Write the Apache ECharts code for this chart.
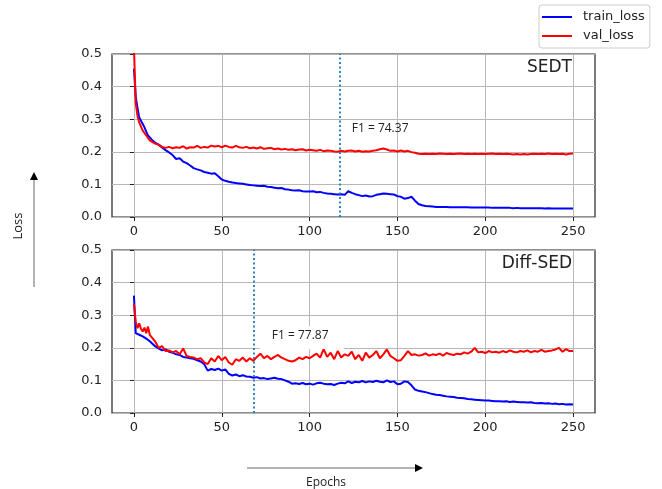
<!DOCTYPE html>
<html>
<head>
<meta charset="utf-8">
<script src="https://cdn.jsdelivr.net/npm/echarts@6/dist/echarts.min.js"></script>
<style>html,body{margin:0;padding:0;background:#fff}#c{width:662px;height:489px}</style>
</head>
<body>
<div id="c"></div>
<script>
const epochs = [0,1,2,3,4,5,6,7,8,9,10,12,14,16,18,20,22,24,26,28,30,32,34,36,38,40,42,44,46,48,50,52,54,56,58,60,62,64,66,68,70,72,74,76,78,80,82,84,86,88,90,92,94,96,98,100,102,104,106,108,110,112,114,116,118,120,122,124,126,128,130,132,134,136,138,140,142,144,146,148,150,152,154,156,158,160,162,164,166,168,170,172,174,176,178,180,182,184,186,188,190,192,194,196,198,200,202,204,206,208,210,212,214,216,218,220,222,224,226,228,230,232,234,236,238,240,242,244,246,248,250];

const sedtTrain = [0.455,0.37,0.335,0.305,0.3,0.285,0.275,0.262,0.25,0.245,0.238,0.228,0.222,0.213,0.205,0.198,0.19,0.178,0.18,0.17,0.165,0.158,0.15,0.146,0.143,0.138,0.136,0.133,0.134,0.125,0.115,0.111,0.108,0.106,0.104,0.103,0.102,0.1,0.098,0.097,0.096,0.095,0.096,0.093,0.092,0.09,0.088,0.089,0.085,0.084,0.082,0.081,0.082,0.079,0.078,0.078,0.079,0.076,0.077,0.074,0.072,0.071,0.07,0.069,0.07,0.068,0.079,0.074,0.07,0.067,0.064,0.066,0.063,0.064,0.068,0.07,0.072,0.071,0.07,0.069,0.064,0.062,0.056,0.058,0.062,0.05,0.04,0.036,0.034,0.033,0.032,0.031,0.031,0.031,0.031,0.03,0.03,0.03,0.03,0.03,0.03,0.029,0.029,0.029,0.029,0.029,0.029,0.028,0.028,0.028,0.028,0.028,0.028,0.027,0.028,0.027,0.027,0.027,0.027,0.027,0.027,0.027,0.026,0.027,0.026,0.026,0.026,0.026,0.026,0.026,0.026];

const sedtVal = [0.52,0.35,0.31,0.29,0.285,0.265,0.26,0.25,0.245,0.235,0.24,0.225,0.222,0.215,0.212,0.215,0.211,0.214,0.212,0.217,0.21,0.214,0.213,0.218,0.212,0.215,0.213,0.219,0.216,0.218,0.214,0.219,0.215,0.213,0.218,0.214,0.212,0.215,0.211,0.213,0.21,0.214,0.209,0.211,0.212,0.208,0.21,0.207,0.209,0.206,0.208,0.205,0.207,0.208,0.204,0.206,0.205,0.203,0.206,0.202,0.204,0.203,0.201,0.2,0.203,0.201,0.203,0.204,0.201,0.203,0.2,0.202,0.201,0.203,0.205,0.208,0.21,0.207,0.203,0.204,0.201,0.204,0.201,0.203,0.199,0.197,0.194,0.193,0.194,0.193,0.194,0.193,0.195,0.194,0.193,0.194,0.193,0.194,0.195,0.193,0.194,0.193,0.194,0.193,0.194,0.193,0.194,0.195,0.193,0.194,0.193,0.194,0.193,0.192,0.193,0.192,0.193,0.192,0.193,0.194,0.193,0.194,0.193,0.195,0.193,0.194,0.193,0.194,0.192,0.194,0.195];

const diffTrain = [0.36,0.245,0.25,0.24,0.245,0.235,0.232,0.228,0.225,0.22,0.218,0.205,0.198,0.192,0.195,0.188,0.185,0.18,0.178,0.172,0.17,0.168,0.166,0.162,0.158,0.15,0.13,0.135,0.132,0.136,0.13,0.134,0.12,0.115,0.118,0.113,0.116,0.112,0.111,0.108,0.11,0.106,0.107,0.104,0.106,0.108,0.105,0.104,0.1,0.096,0.09,0.091,0.089,0.092,0.088,0.09,0.087,0.091,0.093,0.09,0.088,0.089,0.086,0.09,0.093,0.091,0.097,0.092,0.096,0.094,0.098,0.094,0.097,0.095,0.099,0.096,0.094,0.1,0.095,0.097,0.088,0.09,0.097,0.095,0.085,0.072,0.068,0.066,0.064,0.061,0.058,0.056,0.055,0.053,0.051,0.05,0.049,0.047,0.046,0.045,0.043,0.042,0.041,0.04,0.039,0.038,0.038,0.037,0.036,0.036,0.035,0.036,0.034,0.035,0.034,0.033,0.033,0.032,0.033,0.031,0.03,0.031,0.029,0.03,0.028,0.029,0.027,0.028,0.026,0.027,0.026];

const diffVal = [0.335,0.28,0.26,0.275,0.258,0.25,0.262,0.245,0.265,0.24,0.238,0.22,0.2,0.205,0.19,0.192,0.186,0.19,0.18,0.198,0.175,0.172,0.17,0.165,0.168,0.155,0.15,0.168,0.158,0.175,0.162,0.172,0.155,0.148,0.165,0.16,0.17,0.158,0.168,0.16,0.172,0.182,0.168,0.175,0.165,0.172,0.178,0.17,0.165,0.16,0.158,0.162,0.17,0.165,0.172,0.168,0.175,0.182,0.17,0.196,0.172,0.185,0.165,0.19,0.17,0.18,0.175,0.188,0.165,0.178,0.16,0.185,0.17,0.178,0.19,0.168,0.18,0.195,0.175,0.168,0.16,0.162,0.175,0.19,0.178,0.18,0.176,0.178,0.183,0.176,0.18,0.178,0.182,0.176,0.184,0.18,0.178,0.182,0.18,0.186,0.182,0.188,0.2,0.186,0.188,0.184,0.19,0.186,0.188,0.185,0.19,0.186,0.192,0.188,0.186,0.19,0.188,0.192,0.186,0.19,0.188,0.194,0.188,0.19,0.192,0.195,0.2,0.188,0.196,0.19,0.19];

const xTicks = [0,50,100,150,200,250];
const bestEpoch = [117, 68];
const f1Text = ['F1 = 74.37', 'F1 = 77.87'];
const panelNames = ['SEDT', 'Diff-SED'];

const pairs = (ys) => epochs.map((e, i) => [e, ys[i]]);

const chart = echarts.init(document.getElementById('c'), null, {renderer: 'canvas'});

const gridBase = {left: 112, width: 483, height: 163, show: true, borderColor: '#222', borderWidth: 1.2, backgroundColor: 'transparent'};

function xAxis(gi) {
  return {
    type: 'value', gridIndex: gi, min: -12.5, max: 262.5,
    axisLine: {show: false},
    axisTick: {show: true, inside: false, length: 4, lineStyle: {color: '#222'}, customValues: xTicks},
    axisLabel: {show: true, customValues: xTicks, margin: 8, fontFamily: 'DejaVu Sans', fontSize: 13, color: '#222'},
    splitLine: {show: true, lineStyle: {color: '#b8b8b8', width: 1}}
  };
}
function yAxis(gi) {
  return {
    type: 'value', gridIndex: gi, min: 0, max: 0.5, interval: 0.1,
    axisLine: {show: false},
    axisTick: {show: true, inside: false, length: 4, lineStyle: {color: '#222'}},
    axisLabel: {margin: 10, fontFamily: 'DejaVu Sans', fontSize: 13, color: '#222', formatter: v => v.toFixed(1)},
    splitLine: {show: true, lineStyle: {color: '#b8b8b8', width: 1}}
  };
}
function line(name, data, color, gi, extra) {
  return Object.assign({
    name, type: 'line', xAxisIndex: gi, yAxisIndex: gi, data: pairs(data),
    showSymbol: false, symbol: 'none', clip: true,
    lineStyle: {color, width: 2}, itemStyle: {color}
  }, extra || {});
}
function vline(gi) {
  return {
    silent: true, symbol: ['none', 'none'], animation: false,
    label: {show: false},
    lineStyle: {type: [2, 2.5], color: '#1f77b4', width: 1.8},
    data: [{xAxis: bestEpoch[gi]}]
  };
}

chart.setOption({
  animation: false,
  backgroundColor: '#fff',
  grid: [Object.assign({top: 54}, gridBase), Object.assign({top: 250}, gridBase)],
  xAxis: [xAxis(0), xAxis(1)],
  yAxis: [yAxis(0), yAxis(1)],
  title: [
    {text: panelNames[0], right: 90, top: 59, padding: 0, textStyle: {fontFamily: 'DejaVu Sans', fontSize: 17, fontWeight: 'normal', color: '#222'}},
    {text: panelNames[1], right: 90, top: 255, padding: 0, textStyle: {fontFamily: 'DejaVu Sans', fontSize: 17, fontWeight: 'normal', color: '#222'}}
  ],
  legend: {
    data: ['train_loss', 'val_loss'], orient: 'vertical', left: 539, top: 5,
    icon: 'rect', itemWidth: 30, itemHeight: 2, itemGap: 3,
    padding: [4, 5, 4, 3],
    borderColor: '#cccccc', borderWidth: 1, borderRadius: 3, backgroundColor: '#fff',
    textStyle: {fontFamily: 'DejaVu Sans', fontSize: 13, color: '#222', lineHeight: 16, padding: [0, 0, 0, 6]}
  },
  series: [
    line('train_loss', sedtTrain, '#0000ff', 0, {markLine: vline(0)}),
    line('val_loss', sedtVal, '#ff0000', 0),
    line('train_loss', diffTrain, '#0000ff', 1, {markLine: vline(1)}),
    line('val_loss', diffVal, '#ff0000', 1)
  ]
});

// annotations placed from data coordinates
const p1 = chart.convertToPixel({gridIndex: 0}, [124, 0.264]);
const p2 = chart.convertToPixel({gridIndex: 1}, [78.5, 0.23]);
chart.setOption({
  graphic: [
    {type: 'text', left: p1[0], top: p1[1] - 8, z: 100, style: {text: f1Text[0], font: '12px "Open Sans"', fill: '#222'}},
    {type: 'rect', z: 99, shape: {x: p2[0] - 12, y: p2[1] - 12, width: 84, height: 23}, style: {fill: '#fff'}},
    {type: 'text', left: p2[0], top: p2[1] - 8, z: 100, style: {text: f1Text[1], font: '12px "Open Sans"', fill: '#222'}},
    // Loss label + arrow
    {type: 'text', z: 100, x: 18, y: 226, rotation: Math.PI / 2, style: {text: 'Loss', font: '13px "Open Sans"', fill: '#222', align: 'center', verticalAlign: 'middle'}},
    {type: 'line', z: 100, shape: {x1: 34, y1: 287, x2: 34, y2: 178}, style: {stroke: '#666', lineWidth: 1}},
    {type: 'polygon', z: 100, shape: {points: [[30, 180], [38, 180], [34, 172]]}, style: {fill: '#000'}},
    // Epochs label + arrow
    {type: 'text', z: 100, x: 326, y: 483, style: {text: 'Epochs', font: '12px "Open Sans"', fill: '#222', align: 'center', verticalAlign: 'middle'}},
    {type: 'line', z: 100, shape: {x1: 247, y1: 468, x2: 417, y2: 468}, style: {stroke: '#666', lineWidth: 1}},
    {type: 'polygon', z: 100, shape: {points: [[415, 464], [415, 472], [423, 468]]}, style: {fill: '#000'}}
  ]
});
</script>
</body>
</html>
